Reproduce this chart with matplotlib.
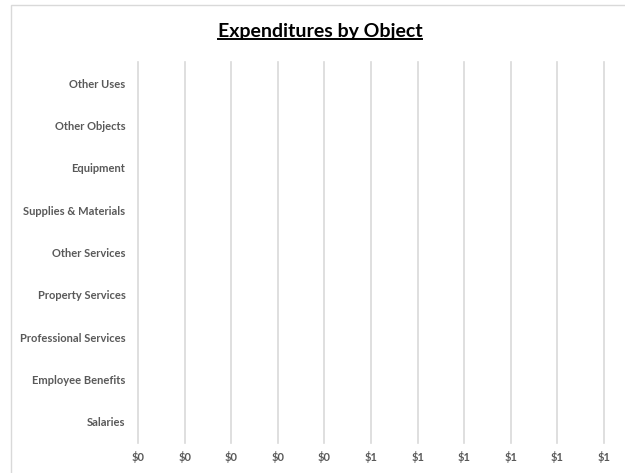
import matplotlib
matplotlib.use("Agg")
import matplotlib.pyplot as plt
from matplotlib.ticker import FuncFormatter, FixedLocator
from matplotlib.lines import Line2D
from matplotlib.patches import Rectangle
import math

categories = ["Salaries", "Employee Benefits", "Professional Services",
              "Property Services", "Other Services", "Supplies & Materials",
              "Equipment", "Other Objects", "Other Uses"]
amounts = [0, 0, 0, 0, 0, 0, 0, 0, 0]
x_ticks = [0.0, 0.1, 0.2, 0.3, 0.4, 0.5, 0.6, 0.7, 0.8, 0.9, 1.0]

label_color = "#595959"
grid_color = "#d9d9d9"
plt.rcParams['font.family'] = ['Lato', 'DejaVu Sans']

fig = plt.figure(figsize=(6.25, 4.73), dpi=100)
ax = fig.add_axes([138 / 625, 1 - 443 / 473, (604 - 138) / 625, (443 - 62) / 473])

ax.barh(range(len(categories)), amounts, height=0.6, color="#4472c4")
ax.set_ylim(-0.5, len(categories) - 0.5)
ax.set_xlim(0, 1)
ax.set_yticks(range(len(categories)))
ax.set_yticklabels(categories)
ax.xaxis.set_major_locator(FixedLocator(x_ticks))
ax.xaxis.set_major_formatter(FuncFormatter(lambda v, p: "${}".format(int(math.floor(v + 0.5 + 1e-9)))))

for s in ax.spines.values():
    s.set_visible(False)
ax.tick_params(length=0, labelsize=8, labelcolor=label_color)
ax.tick_params(axis="y", pad=9)
ax.tick_params(axis="x", pad=6)
for lab in ax.get_xticklabels() + ax.get_yticklabels():
    lab.set_fontweight("bold")
ax.grid(axis="x", color=grid_color, linewidth=1.2)
for gl in ax.get_xgridlines():
    gl.set_clip_on(False)
ax.set_axisbelow(True)

title = fig.text(0.512, 1 - 31 / 473, "Expenditures by Object", ha="center", va="center",
                 fontsize=14, fontweight="bold", color="black")

# figure border
fig.patches.append(Rectangle((11 / 625, -0.1), 1.2, 1.1 - 5 / 473, transform=fig.transFigure,
                             fill=False, edgecolor="#d9d9d9", linewidth=1))

# underline the title
fig.canvas.draw()
bb = title.get_window_extent().transformed(fig.transFigure.inverted())
fig.add_artist(Line2D([bb.x0, bb.x1], [bb.y0 + 0.002, bb.y0 + 0.002], transform=fig.transFigure,
                      color="black", linewidth=1.4))

fig.savefig("out.png", dpi=100)
